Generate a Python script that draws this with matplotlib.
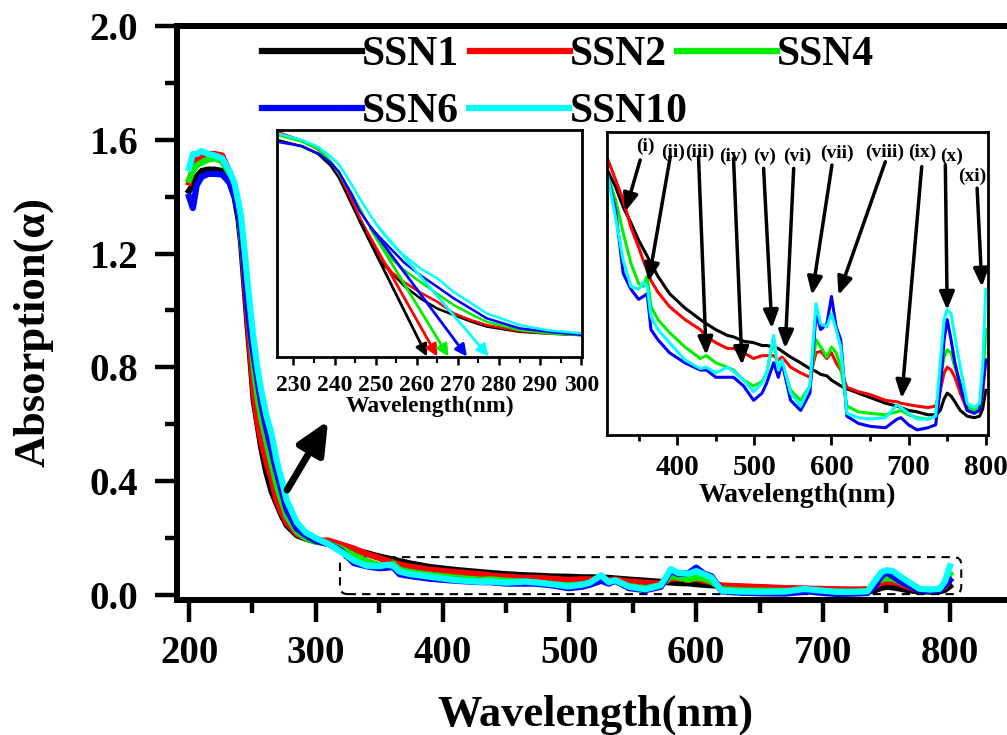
import matplotlib
matplotlib.use('Agg')
import matplotlib.pyplot as plt
from matplotlib.patches import FancyBboxPatch
from matplotlib.ticker import MultipleLocator

plt.rcParams['font.family'] = ['Liberation Serif', 'DejaVu Serif']
plt.rcParams['font.weight'] = 'bold'
plt.rcParams['axes.labelweight'] = 'bold'

# wavelength grid (nm) shared by all samples
wavelength = [200, 203, 206, 210, 215, 220, 226, 232, 236, 239, 241, 244, 246, 249, 251,
              254, 257, 261, 265, 269, 273, 277, 285, 292, 300,
              310, 320, 330, 340, 350, 356, 361, 366, 375, 390, 410, 430, 438, 450, 465,
              473, 486, 499, 510, 516, 525, 531, 536, 547, 560, 572, 580, 586, 594, 600,
              606, 612, 620, 635, 650, 670, 685, 690, 700, 711, 725, 735, 741, 746, 750,
              755, 760, 767, 776, 785, 792, 796, 800]

ssn1 = [1.42, 1.44, 1.47, 1.49, 1.495, 1.495, 1.49, 1.448, 1.397, 1.32, 1.24, 1.07, 0.955, 0.795, 0.683,
        0.60, 0.515, 0.43, 0.365, 0.322, 0.28, 0.245, 0.21, 0.198, 0.188,
        0.183, 0.172, 0.158, 0.147, 0.135, 0.129, 0.124, 0.119, 0.110, 0.098, 0.088, 0.080, 0.077, 0.073, 0.069,
        0.068, 0.065, 0.064, 0.062, 0.062, 0.061, 0.060, 0.058, 0.054, 0.050, 0.046, 0.044, 0.042, 0.041, 0.038,
        0.036, 0.034, 0.032, 0.029, 0.026, 0.022, 0.020, 0.019, 0.017, 0.016, 0.014, 0.014, 0.017, 0.025, 0.029,
        0.027, 0.023, 0.017, 0.013, 0.012, 0.013, 0.018, 0.031]
ssn2 = [1.45, 1.50, 1.53, 1.545, 1.55, 1.55, 1.545, 1.486, 1.426, 1.343, 1.27, 1.10, 0.98, 0.817, 0.71,
        0.605, 0.54, 0.47, 0.41, 0.333, 0.29, 0.255, 0.215, 0.20, 0.192,
        0.191, 0.177, 0.163, 0.144, 0.130, 0.121, 0.114, 0.107, 0.099, 0.089, 0.080, 0.073, 0.068, 0.064, 0.060,
        0.060, 0.057, 0.053, 0.055, 0.055, 0.055, 0.052, 0.054, 0.047, 0.043, 0.040, 0.057, 0.058, 0.053, 0.057,
        0.050, 0.045, 0.033, 0.030, 0.028, 0.024, 0.023, 0.022, 0.021, 0.020, 0.019, 0.020, 0.031, 0.043, 0.047,
        0.045, 0.040, 0.029, 0.017, 0.016, 0.018, 0.029, 0.052]
ssn4 = [1.46, 1.49, 1.51, 1.52, 1.53, 1.535, 1.525, 1.48, 1.43, 1.35, 1.27, 1.14, 1.04, 0.89, 0.80,
        0.695, 0.62, 0.54, 0.463, 0.388, 0.33, 0.277, 0.222, 0.20, 0.188,
        0.179, 0.163, 0.140, 0.119, 0.105, 0.103, 0.110, 0.089, 0.080, 0.071, 0.061, 0.053, 0.055, 0.050, 0.047,
        0.045, 0.038, 0.034, 0.037, 0.043, 0.067, 0.043, 0.050, 0.031, 0.024, 0.034, 0.066, 0.061, 0.054, 0.061,
        0.057, 0.047, 0.020, 0.016, 0.015, 0.014, 0.016, 0.017, 0.014, 0.012, 0.011, 0.013, 0.040, 0.054, 0.059,
        0.057, 0.047, 0.036, 0.020, 0.017, 0.020, 0.036, 0.073]
ssn6 = [1.40, 1.36, 1.44, 1.47, 1.48, 1.48, 1.478, 1.45, 1.40, 1.34, 1.28, 1.135, 1.02, 0.90, 0.84,
        0.755, 0.67, 0.585, 0.51, 0.433, 0.367, 0.30, 0.233, 0.21, 0.19,
        0.179, 0.156, 0.112, 0.101, 0.094, 0.096, 0.098, 0.073, 0.066, 0.057, 0.050, 0.045, 0.045, 0.040, 0.040,
        0.040, 0.034, 0.024, 0.029, 0.036, 0.050, 0.040, 0.050, 0.024, 0.017, 0.029, 0.084, 0.073, 0.077, 0.096,
        0.075, 0.066, 0.013, 0.008, 0.006, 0.005, 0.011, 0.012, 0.007, 0.0035, 0.005, 0.007, 0.031, 0.066, 0.080,
        0.066, 0.050, 0.034, 0.017, 0.015, 0.017, 0.034, 0.052]
ssn10 = [1.50, 1.55, 1.55, 1.56, 1.55, 1.545, 1.535, 1.49, 1.444, 1.38, 1.33, 1.20, 1.105, 0.975, 0.895,
         0.795, 0.717, 0.63, 0.567, 0.475, 0.405, 0.333, 0.255, 0.22, 0.20,
         0.179, 0.151, 0.121, 0.103, 0.101, 0.106, 0.103, 0.082, 0.073, 0.064, 0.052, 0.046, 0.047, 0.043, 0.047,
         0.044, 0.038, 0.030, 0.036, 0.043, 0.069, 0.045, 0.052, 0.029, 0.020, 0.034, 0.091, 0.077, 0.075, 0.084,
         0.073, 0.061, 0.015, 0.012, 0.011, 0.012, 0.021, 0.019, 0.015, 0.011, 0.011, 0.013, 0.050, 0.080, 0.087,
         0.084, 0.068, 0.047, 0.022, 0.019, 0.022, 0.047, 0.101]

samples = ['SSN1', 'SSN2', 'SSN4', 'SSN6', 'SSN10']
series = [ssn1, ssn2, ssn4, ssn6, ssn10]
colors = ['#000000', '#ff0000', '#00ee00', '#0000ff', '#00ffff']

# band-edge tangents in the left inset: start point and x-intercept
tangent_x0 = [246.2, 247.9, 248.7, 248.7, 250.3]
tangent_y0 = [0.944, 0.878, 0.90, 0.911, 0.922]
band_edge = [262.5, 265.0, 267.7, 272.2, 277.5]

# peak markers in the right inset
peak_labels = ['(i)', '(ii)', '(iii)', '(iv)', '(v)', '(vi)', '(vii)', '(viii)', '(ix)', '(x)', '(xi)']
label_x = [358.5, 394.4, 429, 473, 513.7, 555.6, 607, 668.5, 718, 756, 782]
label_y = [0.200, 0.196, 0.196, 0.193, 0.193, 0.193, 0.195, 0.196, 0.196, 0.193, 0.179]
arrow_x0 = [352, 391, 427.6, 473, 512, 551, 600.6, 669.8, 717, 747.6, 788.8]
arrow_y0 = [0.1906, 0.1929, 0.1929, 0.1918, 0.1848, 0.1848, 0.1871, 0.1894, 0.186, 0.1871, 0.171]
arrow_x1 = [332.6, 362.8, 437.6, 484, 522.8, 540, 574.7, 609, 691, 750, 795]
arrow_y1 = [0.1548, 0.1063, 0.0554, 0.0485, 0.0739, 0.060, 0.097, 0.097, 0.0254, 0.0866, 0.1027]

fig = plt.figure(figsize=(10.07, 7.35), dpi=100)

# main plot
ax = fig.add_axes([0.1758, 0.1837, 0.8556, 0.7810])
lines = []
for y, c in zip(series, colors):
    ln, = ax.plot(wavelength, y, color=c, lw=4.5, solid_joinstyle='round')
    lines.append(ln)
ax.set_xlim(190.5, 870)
ax.set_ylim(-0.0176, 2.0)
ax.set_xticks(range(200, 801, 100))
ax.xaxis.set_minor_locator(MultipleLocator(50))
ax.set_yticks([0.0, 0.4, 0.8, 1.2, 1.6, 2.0])
ax.yaxis.set_minor_locator(MultipleLocator(0.2))
ax.set_yticklabels(['%.1f' % v for v in ax.get_yticks()])
ax.tick_params(which='major', direction='out', length=16, width=3.2, labelsize=28)
ax.tick_params(which='minor', direction='out', length=9, width=3.2)
ax.tick_params(axis='x', pad=9.5)
ax.tick_params(axis='y', pad=12)
ax.spines['right'].set_visible(False)
for s in ['left', 'top', 'bottom']:
    ax.spines[s].set_linewidth(4.3)

box = FancyBboxPatch((319, 0.003), 490, 0.130, boxstyle='round,pad=0,rounding_size=6',
                     mutation_aspect=0.0044, fill=False, ec='black', lw=1.5, ls=(0, (4, 3)))
ax.add_patch(box)
ax.annotate('', xy=(309.6, 0.612), xytext=(277.3, 0.369),
            arrowprops=dict(arrowstyle='-|>,head_length=0.65,head_width=0.3', color='black',
                            lw=5, mutation_scale=30, shrinkA=0, shrinkB=0))

leg1 = ax.legend(lines[:3], samples[:3], loc='upper left', bbox_to_anchor=(262 / 1007, 1 - 36 / 735),
                 bbox_transform=fig.transFigure, ncol=3, frameon=False, fontsize=30,
                 handlelength=2.4, handletextpad=0.0, columnspacing=0.25, borderpad=0, borderaxespad=0)
ax.add_artist(leg1)
ax.legend(lines[3:], samples[3:], loc='upper left', bbox_to_anchor=(262 / 1007, 1 - 93 / 735),
          bbox_transform=fig.transFigure, ncol=2, frameon=False, fontsize=30,
          handlelength=2.4, handletextpad=0.0, columnspacing=0.25, borderpad=0, borderaxespad=0)

fig.text(0.591, 0.0125, 'Wavelength(nm)', fontsize=32, ha='center', va='baseline')
fig.text(0.0328, 0.548, 'Absorption(α)', fontsize=32, rotation=90, ha='center', va='center')

# left inset: band edge
ax1 = fig.add_axes([0.2751, 0.5139, 0.3029, 0.3093])
for y, c in zip(series, colors):
    ax1.plot(wavelength, y, color=c, lw=1.8)
for x0, y0, xe, c in zip(tangent_x0, tangent_y0, band_edge, colors):
    ax1.annotate('', xy=(xe, 0.045), xytext=(x0, y0),
                 arrowprops=dict(arrowstyle='-|>,head_length=0.5,head_width=0.25', color=c,
                                 lw=2, mutation_scale=14, shrinkA=0, shrinkB=0))
ax1.set_xlim(226.0, 300.2)
ax1.set_ylim(0.04, 1.557)
ax1.set_xticks(range(230, 301, 10))
ax1.xaxis.set_minor_locator(MultipleLocator(5))
ax1.set_yticks([])
ax1.tick_params(axis='x', which='major', direction='out', length=6, width=1.8, labelsize=17, pad=6.5)
ax1.tick_params(axis='x', which='minor', direction='out', length=4, width=1.5)
for sp in ax1.spines.values():
    sp.set_linewidth(2)
ax1.set_xlabel('Wavelength(nm)', fontsize=17, labelpad=0)

# right inset: 310-800 nm
ax2 = fig.add_axes([0.6028, 0.4082, 0.3784, 0.4122])
for y, c in zip(series, colors):
    ax2.plot(wavelength, y, color=c, lw=2.2)
for t, lx, ly, x0, y0, x1, y1 in zip(peak_labels, label_x, label_y, arrow_x0, arrow_y0, arrow_x1, arrow_y1):
    ax2.text(lx, ly, t, fontsize=14, ha='center', va='center')
    ax2.annotate('', xy=(x1, y1), xytext=(x0, y0),
                 arrowprops=dict(arrowstyle='-|>,head_length=0.6,head_width=0.25', color='black',
                                 lw=2.5, mutation_scale=18, shrinkA=0, shrinkB=0))
ax2.set_xlim(309, 803)
ax2.set_ylim(0, 0.21)
ax2.set_xticks(range(400, 801, 100))
ax2.xaxis.set_minor_locator(MultipleLocator(50))
ax2.set_yticks([])
ax2.tick_params(axis='x', which='major', direction='out', length=7, width=2, labelsize=21, pad=6.5)
ax2.tick_params(axis='x', which='minor', direction='out', length=4, width=2)
for sp in ax2.spines.values():
    sp.set_linewidth(2)
ax2.set_xlabel('Wavelength(nm)', fontsize=20, labelpad=1.5)

fig.savefig('out.png', dpi=100)
